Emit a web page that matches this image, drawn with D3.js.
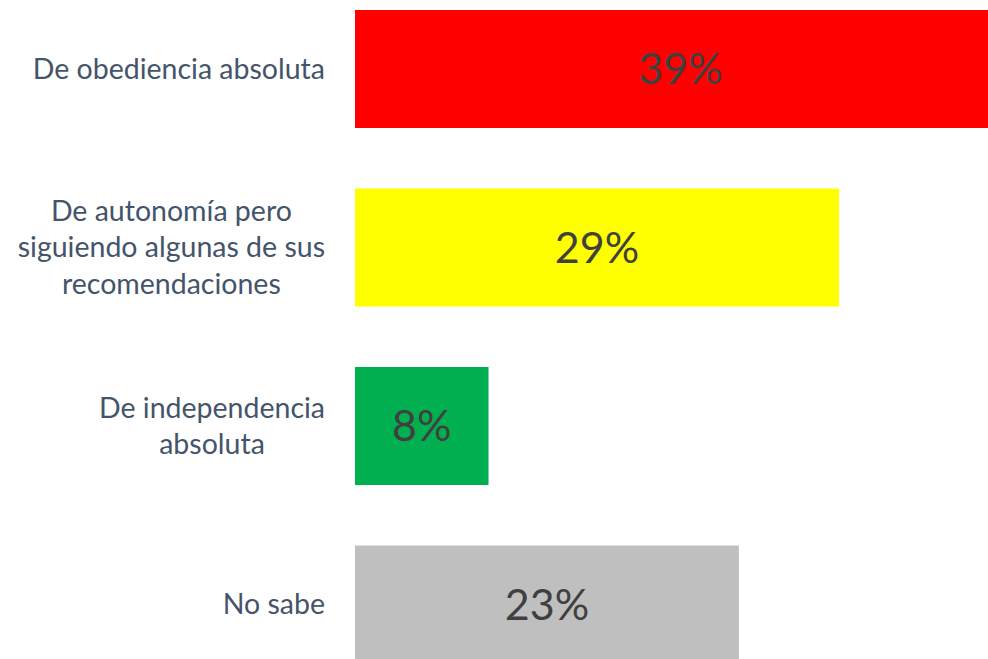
<!DOCTYPE html>
<html>
<head>
<meta charset="utf-8">
<script src="https://cdn.jsdelivr.net/npm/d3@7"></script>
<style>
  body { margin: 0; background: #fff; }
  svg { display: block; }
</style>
</head>
<body>
<div id="chart"></div>
<script>
// categories and values
const categories = ["De obediencia absoluta", "De autonomía pero siguiendo algunas de sus recomendaciones", "De independencia absoluta", "No sabe"];
const labelLines = [["De obediencia absoluta"], ["De autonomía pero", "siguiendo algunas de sus", "recomendaciones"], ["De independencia", "absoluta"], ["No sabe"]];
const values = [39, 29, 8, 23];
const barColors = ["#ff0000", "#ffff00", "#00b050", "#bfbfbf"];

const width = 988, height = 659;
const left = 355;

const svg = d3.select("#chart").append("svg")
  .attr("width", width)
  .attr("height", height);

// 29% bar ends at x=839, the 39% bar runs off the right edge
const x = d3.scaleLinear().domain([0, 29]).range([left, 839]);
const y = d3.scaleBand().domain(categories).range([10 - 30.25, 10 - 30.25 + 4 * 178.5]).paddingInner(60.5 / 178.5).paddingOuter(30.25 / 178.5);

svg.append("g").selectAll("rect")
  .data(values)
  .join("rect")
    .attr("x", x(0))
    .attr("y", (d, i) => y(categories[i]))
    .attr("width", d => x(d) - x(0))
    .attr("height", y.bandwidth())
    .attr("fill", (d, i) => barColors[i]);

svg.append("g").selectAll("text")
  .data(values)
  .join("text")
    .attr("x", d => (x(0) + x(d)) / 2)
    .attr("y", (d, i) => y(categories[i]) + y.bandwidth() / 2)
    .attr("dy", "0.36em")
    .attr("text-anchor", "middle")
    .style("font-family", "Lato, 'Open Sans', sans-serif")
    .style("font-size", "43px")
    .attr("fill", "#404040")
    .text(d => d + "%");

// category labels: lines centred on each other, block right-aligned
const lineH = 36.5;
const labelRight = 325;
labelLines.forEach(function(lines, i){
  const g = svg.append("g");
  const cy = y(categories[i]) + y.bandwidth() / 2;
  const texts = g.selectAll("text")
    .data(lines)
    .join("text")
      .attr("y", (d, j) => cy + (j - (lines.length - 1) / 2) * lineH)
      .attr("dy", "0.35em")
      .attr("text-anchor", "middle")
      .style("font-family", "Lato, 'Open Sans', sans-serif")
      .style("font-size", "28.5px")
      .attr("fill", "#44546a")
      .text(d => d);
  let maxW = 0;
  texts.each(function(){ maxW = Math.max(maxW, this.getComputedTextLength()); });
  texts.attr("x", labelRight - maxW / 2);
});
</script>
</body>
</html>
